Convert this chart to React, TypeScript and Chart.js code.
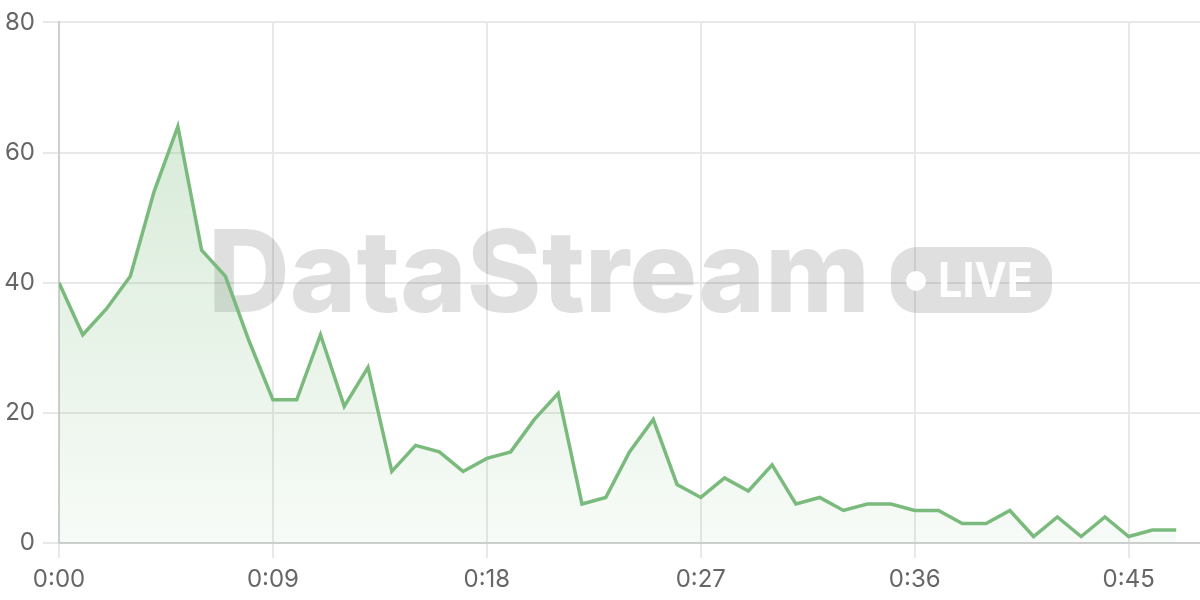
import React, { useEffect, useRef } from "react";
import { Chart, registerables } from "chart.js";

Chart.register(...registerables);

const seconds: number[] = [0,1,2,3,4,5,6,7,8,9,10,11,12,13,14,15,16,17,18,19,20,21,22,23,24,25,26,27,28,29,30,31,32,33,34,35,36,37,38,39,40,41,42,43,44,45,46,47];
const values: number[] = [40,32,36,41,54,64,45,41,31,22,22,32,21,27,11,15,14,11,13,14,19,23,6,7,14,19,9,7,10,8,12,6,7,5,6,6,5,5,3,3,5,1,4,1,4,1,2,2];
const yTicks: number[] = [0, 20, 40, 60, 80];
const watermarkText = "DataStream";
const badgeText = "LIVE";

const fmt = (s: number) => `${Math.floor(s / 60)}:${String(s % 60).padStart(2, "0")}`;

const watermarkPlugin = {
  id: "watermark",
  beforeDatasetsDraw(chart: any) {
    const ctx = chart.ctx;
    ctx.save();
    ctx.fillStyle = "rgba(0,0,0,0.125)";
    ctx.font = "800 114px Inter, 'Open Sans', sans-serif";
    ctx.textBaseline = "alphabetic";
    ctx.textAlign = "left";
    const tx = 208;
    const ty = 312;
    const targetW = 662;
    const w = ctx.measureText(watermarkText).width;
    ctx.save();
    ctx.translate(tx, ty);
    ctx.scale(targetW / w, 1);
    ctx.fillText(watermarkText, 0, 0);
    ctx.restore();
    const bx = 891, by = 247, bw = 161, bh = 66, r = 26;
    ctx.beginPath();
    ctx.moveTo(bx + r, by);
    ctx.lineTo(bx + bw - r, by);
    ctx.arcTo(bx + bw, by, bx + bw, by + r, r);
    ctx.lineTo(bx + bw, by + bh - r);
    ctx.arcTo(bx + bw, by + bh, bx + bw - r, by + bh, r);
    ctx.lineTo(bx + r, by + bh);
    ctx.arcTo(bx, by + bh, bx, by + bh - r, r);
    ctx.lineTo(bx, by + r);
    ctx.arcTo(bx, by, bx + r, by, r);
    ctx.closePath();
    ctx.fill();
    ctx.fillStyle = "rgba(255,255,255,0.95)";
    ctx.beginPath();
    ctx.arc(916, 281, 10, 0, Math.PI * 2);
    ctx.fill();
    ctx.font = "700 48px Inter, 'Open Sans', sans-serif";
    const lw = ctx.measureText(badgeText).width;
    ctx.save();
    ctx.translate(938, 297);
    ctx.scale(95 / lw, 1);
    ctx.fillText(badgeText, 0, 0);
    ctx.restore();
    ctx.restore();
  },
};

export default function App() {
  const ref = useRef<HTMLCanvasElement | null>(null);
  useEffect(() => {
    if (!ref.current) return;
    const chart = new Chart(ref.current, {
      type: "line",
      data: {
        datasets: [
          {
            data: seconds.map((s, i) => ({ x: s, y: values[i] })),
            borderColor: "#7aba7c",
            borderWidth: 3.5,
            pointRadius: 0,
            tension: 0,
            fill: "origin",
            backgroundColor: (c: any) => {
              const area = c.chart.chartArea;
              if (!area) return "rgba(122,186,124,0.15)";
              const g = c.chart.ctx.createLinearGradient(0, area.top, 0, area.bottom);
              g.addColorStop(0, "rgba(122,186,124,0.35)");
              g.addColorStop(1, "rgba(122,186,124,0.06)");
              return g;
            },
          },
        ],
      },
      options: {
        animation: false,
        responsive: false,
        maintainAspectRatio: false,
        layout: { padding: { top: 18, left: 0, right: 0, bottom: 0 } },
        plugins: { legend: { display: false }, tooltip: { enabled: false } },
        scales: {
          x: {
            type: "linear",
            min: 0,
            max: 48,
            afterFit: (s: any) => { s.height = 57; },
            ticks: {
              stepSize: 9,
              includeBounds: false,
              callback: (v: any) => fmt(Number(v)),
              color: "#666",
              font: { family: "Inter, 'Open Sans', sans-serif", size: 24 },
              padding: 7,
              maxRotation: 0,
            },
            grid: { color: "#e8e8e8", lineWidth: 2, tickLength: 15 },
            border: { color: "#cfcfcf", width: 2 },
          },
          y: {
            min: 0,
            max: 80,
            afterFit: (s: any) => { s.width = 59; },
            afterBuildTicks: (s: any) => { s.ticks = yTicks.map((v) => ({ value: v })); },
            ticks: {
              color: "#666",
              font: { family: "Inter, 'Open Sans', sans-serif", size: 24 },
              padding: 8,
            },
            grid: { color: "#e8e8e8", lineWidth: 2, tickLength: 16 },
            border: { color: "#cfcfcf", width: 2 },
          },
        },
      },
      plugins: [watermarkPlugin],
    } as any);
    return () => chart.destroy();
  }, []);
  return (
    <div style={{ position: "fixed", left: 0, top: 0, width: 1200, height: 600, background: "#fff" }}>
      <canvas ref={ref} width={1200} height={600} style={{ width: 1200, height: 600 }} />
    </div>
  );
}
